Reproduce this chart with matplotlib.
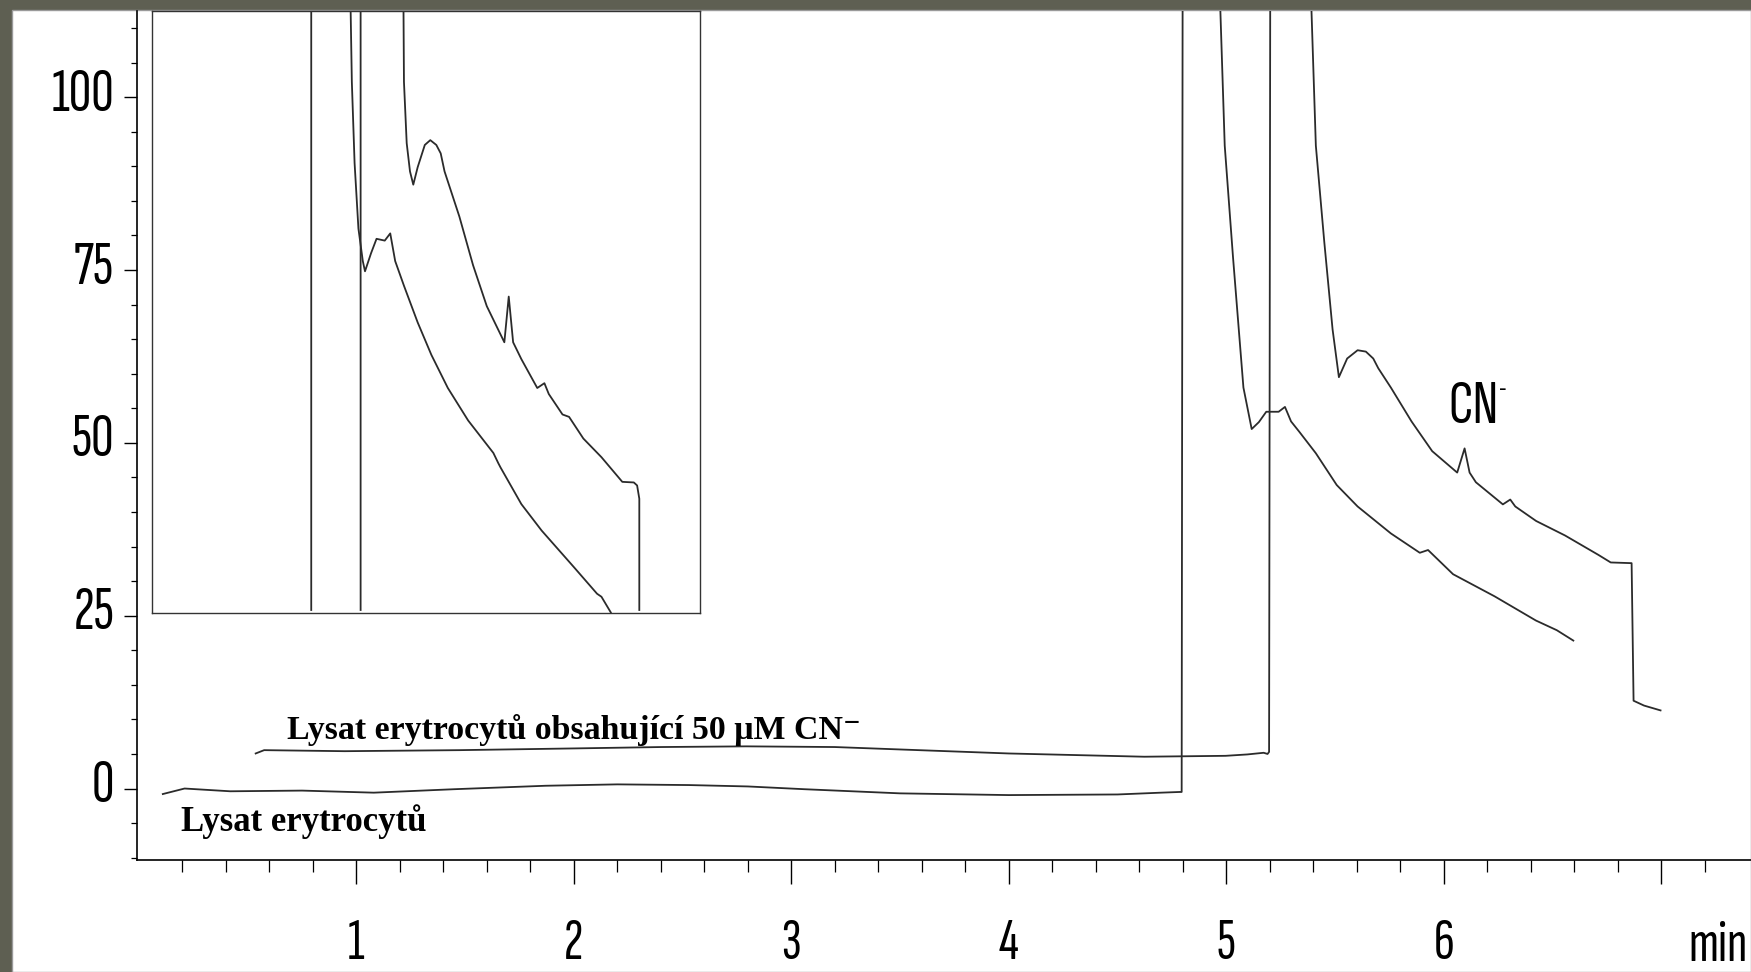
import numpy as np
import matplotlib
matplotlib.use('Agg')
import matplotlib.pyplot as plt
from matplotlib.patches import Rectangle
import matplotlib.transforms as mtrans

# chromatogram traces (time in min, signal)
t_lysat = [0.11, 0.21, 0.42, 0.75, 1.08, 1.45, 1.87, 2.2, 2.53, 2.8, 3.06, 3.5, 4.0, 4.5, 4.7, 4.785, 4.795, 4.80,
           4.955, 4.993, 5.031, 5.079, 5.117, 5.15, 5.184, 5.241, 5.270, 5.298, 5.336, 5.412, 5.508, 5.604, 5.757,
           5.890, 5.928, 6.043, 6.234, 6.424, 6.520, 6.596]
y_lysat = [-0.8, 0.0, -0.4, -0.3, -0.6, -0.1, 0.4, 0.6, 0.5, 0.3, -0.1, -0.7, -0.95, -0.86, -0.6, -0.5, -0.5, 130,
           130, 93.0, 76.9, 58.0, 52.0, 53.0, 54.5, 54.5, 55.2, 53.1, 51.6, 48.5, 43.9, 40.8, 36.9,
           34.1, 34.5, 31.0, 27.8, 24.3, 22.9, 21.4]

t_cn = [0.537, 0.576, 0.946, 1.474, 2.001, 2.4, 2.793, 3.2, 3.5, 4.0, 4.623, 4.997, 5.097, 5.172, 5.190, 5.197, 5.203,
        5.374, 5.412, 5.451, 5.489, 5.518, 5.556, 5.604, 5.642, 5.676, 5.699, 5.757, 5.852, 5.947, 6.062, 6.096,
        6.119, 6.148, 6.272, 6.306, 6.329, 6.425, 6.558, 6.711, 6.768, 6.864, 6.873, 6.921, 6.997]
y_cn = [5.07, 5.55, 5.4, 5.55, 5.8, 6.0, 6.1, 6.0, 5.65, 5.07, 4.6, 4.73, 4.93, 5.17, 5.0, 5.3, 130,
        130, 93.0, 79.0, 66.4, 59.5, 62.2, 63.4, 63.2, 62.2, 60.8, 58.0, 53.1, 48.8, 45.7, 49.2,
        45.7, 44.3, 41.1, 41.8, 40.8, 38.7, 36.6, 33.8, 32.7, 32.6, 12.7, 12.0, 11.3]

# inset (magnified peak region, box units 0-100)
in_x_lysat = [29.1, 29.1, 36.1, 36.5, 37.0, 37.7, 38.5, 38.9, 40.0, 41.0, 42.5, 43.5, 44.4, 46.0, 48.5, 51.0,
              54.0, 57.7, 62.3, 63.2, 63.6, 67.4, 71.1, 77.0, 81.2, 82.0, 83.7]
in_y_lysat = [0.5, 110, 110, 88.3, 74.8, 63.9, 58.5, 56.8, 59.8, 62.2, 61.9, 63.1, 58.5, 54.4, 48.3, 42.9,
              37.4, 32.0, 26.6, 24.9, 24.2, 18.1, 13.7, 7.6, 3.2, 2.7, 0.1]
in_x_cn = [38.1, 38.1, 45.85, 46.0, 46.5, 47.1, 47.7, 48.5, 49.8, 50.8, 51.9, 52.7, 53.4, 56.1, 58.6, 61.1, 64.3,
           65.1, 65.9, 67.4, 70.3, 71.6, 72.4, 74.9, 76.1, 78.7, 82.0, 85.8, 87.9, 88.5, 88.9, 88.9]
in_y_cn = [0.5, 110, 110, 88.3, 78.1, 73.4, 71.2, 74.1, 77.8, 78.6, 77.8, 76.4, 73.4, 65.9, 57.8, 51.0, 45.0,
           52.6, 45.0, 42.2, 37.4, 38.2, 36.4, 33.0, 32.6, 29.0, 25.9, 21.8, 21.7, 21.2, 19.0, 0.5]

yticks = [0, 25, 50, 75, 100]
xticks = [1, 2, 3, 4, 5, 6, 7]
xticklabels = ['1', '2', '3', '4', '5', '6', '']

sans = ['Sofia Sans Extra Condensed', 'Roboto Condensed', 'DejaVu Sans']
serif = ['Liberation Serif', 'DejaVu Serif']
lc = '#2b2b2b'
fs = 45
fsx = 42

W, H = 1751, 972
fig = plt.figure(figsize=(W / 100, H / 100), dpi=100, facecolor='#5e5f52')
fig.patches.append(Rectangle((12 / W, 0), 1 - 12 / W, 1 - 10 / H, transform=fig.transFigure,
                             facecolor='white', edgecolor='#9a9a9a', lw=1.0, zorder=-5))

ax = fig.add_axes([136.5 / W, (H - 860) / H, 1 - 136.5 / W, (860 - 11) / H])
ax.set_facecolor('none')
ax.plot(t_lysat, y_lysat, color=lc, lw=1.3)
ax.plot(t_cn, y_cn, color=lc, lw=1.3)
ax.set_xlim(-0.011, 7.413)
ax.set_ylim(-10.34, 112.47)
for s in ['top', 'right']:
    ax.spines[s].set_visible(False)
for s in ['left', 'bottom']:
    ax.spines[s].set_linewidth(1.2)
ax.set_yticks(yticks)
ax.set_yticks(np.arange(-10, 112, 5), minor=True)
ax.set_xticks(xticks)
ax.set_xticklabels(xticklabels)
ax.set_xticks([v for v in np.arange(0.2, 7.4, 0.2) if abs(v - round(v)) > 0.01], minor=True)
ax.tick_params(axis='y', which='major', length=9.6, width=1.0, pad=6.5, labelsize=fs)
ax.tick_params(axis='y', which='minor', length=4.6, width=0.9)
ax.tick_params(axis='x', which='major', length=17.3, width=1.0, pad=25.5, labelsize=fsx)
ax.tick_params(axis='x', which='minor', length=8.8, width=0.9)
for lab in ax.get_xticklabels() + ax.get_yticklabels():
    lab.set_family(sans)
off = mtrans.ScaledTranslation(0, 8 / 100, fig.dpi_scale_trans)
for lab in ax.get_yticklabels():
    lab.set_transform(lab.get_transform() + off)

ax.text(7.399, -0.072, 'min', transform=ax.get_xaxis_transform(), ha='right', va='top',
        fontsize=fsx, family=sans, clip_on=False)
cn = ax.text(6.02, 52.9, 'CN', fontsize=fs, family=sans, ha='left', va='baseline')
ax.annotate('-', xy=(1.0, 0.82), xycoords=cn, xytext=(0.5, 0), textcoords='offset points',
            fontsize=19, family=sans, ha='left', va='center')
ax.text(0.682, 7.1, 'Lysat erytrocytů obsahující 50 μM CN\u207b', fontsize=24.4, family=serif,
        weight='bold', ha='left', va='baseline')
ax.text(0.194, -6.1, 'Lysat erytrocytů', fontsize=25, family=serif, weight='bold', ha='left', va='baseline')

# inset
ins = fig.add_axes([151.6 / W, (H - 613) / H, (700.2 - 151.6) / W, (613 - 11.4) / H])
ins.plot(in_x_lysat, in_y_lysat, color=lc, lw=1.3)
ins.plot(in_x_cn, in_y_cn, color=lc, lw=1.3)
ins.set_xlim(0, 100)
ins.set_ylim(0, 100)
ins.set_xticks([])
ins.set_yticks([])
for s in ins.spines.values():
    s.set_linewidth(1.0)
    s.set_color('#333333')

fig.savefig('out.png', dpi=100, facecolor=fig.get_facecolor())
